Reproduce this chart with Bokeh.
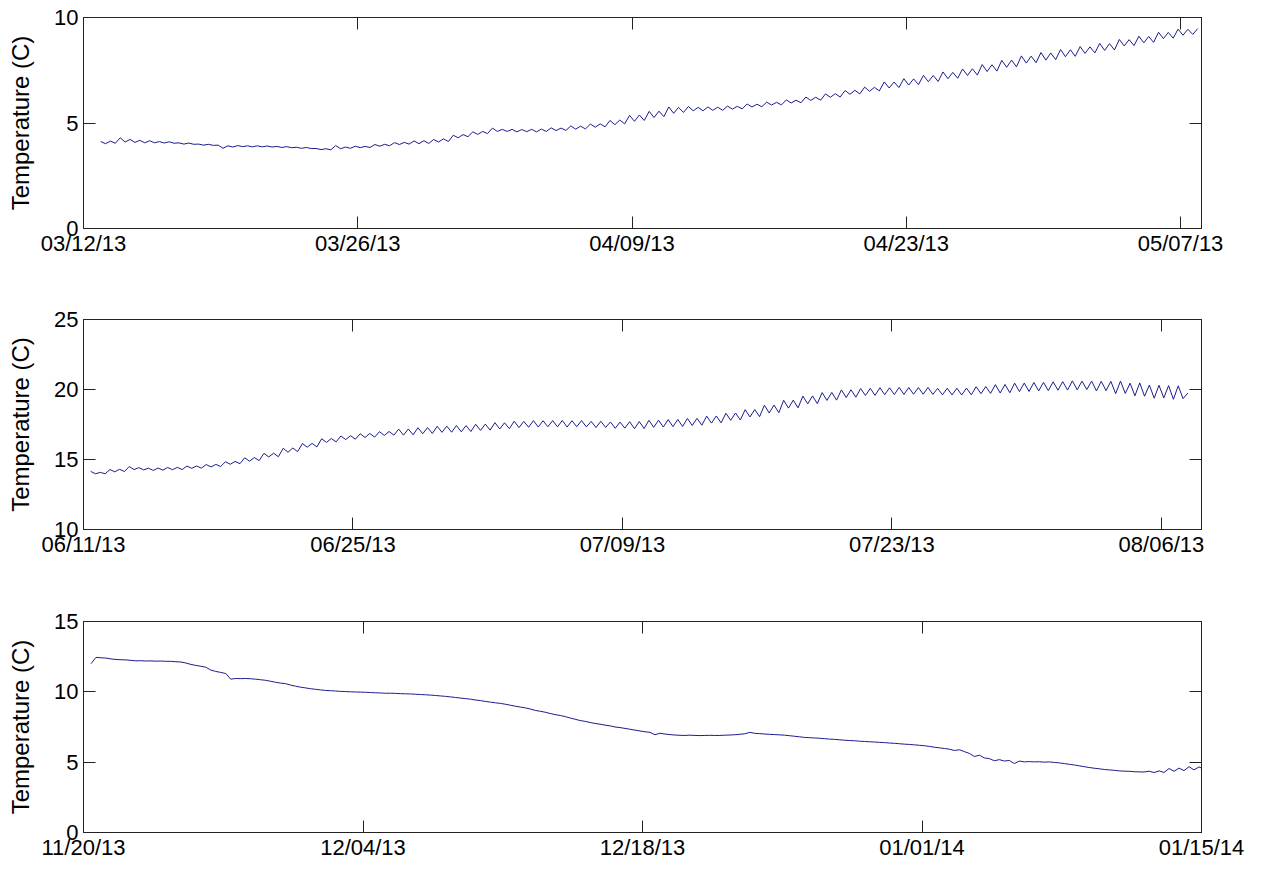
import pandas as pd
from bokeh.plotting import figure
from bokeh.layouts import column
from bokeh.models import (DatetimeAxis, LinearAxis, FixedTicker, Range1d,
                          CustomJSTickFormatter, CustomLabelingPolicy)
from bokeh.embed import file_html
from bokeh.resources import INLINE

# ---------------- data (6-hourly samples) ----------------
start1 = "2013-03-12 21:00"
temp1 = [
    4.12, 4.02, 4.14, 4.04, 4.30, 4.10, 4.22, 4.08, 4.18, 4.06, 4.16, 4.06,
    4.12, 4.05, 4.11, 4.04, 4.06, 4.00, 4.05, 3.99, 4.00, 3.95, 3.99, 3.94,
    3.95, 3.80, 3.92, 3.86, 3.93, 3.88, 3.92, 3.87, 3.92, 3.87, 3.91, 3.86,
    3.89, 3.84, 3.88, 3.83, 3.85, 3.80, 3.84, 3.79, 3.79, 3.74, 3.78, 3.73,
    3.93, 3.78, 3.86, 3.80, 3.90, 3.83, 3.89, 3.84, 3.98, 3.90, 3.99, 3.92,
    4.07, 3.98, 4.08, 4.00, 4.15, 4.02, 4.16, 4.03, 4.22, 4.10, 4.25, 4.12,
    4.42, 4.30, 4.45, 4.35, 4.58, 4.46, 4.60, 4.50, 4.76, 4.60, 4.70, 4.60,
    4.70, 4.58, 4.69, 4.59, 4.70, 4.58, 4.71, 4.60, 4.77, 4.64, 4.76, 4.65,
    4.86, 4.71, 4.85, 4.72, 4.95, 4.80, 4.96, 4.82, 5.12, 4.92, 5.14, 4.96,
    5.36, 5.08, 5.38, 5.12, 5.55, 5.26, 5.56, 5.30, 5.76, 5.46, 5.74, 5.50,
    5.78, 5.58, 5.74, 5.58, 5.76, 5.60, 5.75, 5.60, 5.80, 5.66, 5.79, 5.67,
    5.90, 5.76, 5.89, 5.77, 5.99, 5.85, 5.98, 5.86, 6.09, 5.95, 6.08, 5.96,
    6.23, 6.07, 6.22, 6.08, 6.38, 6.22, 6.39, 6.23, 6.54, 6.36, 6.55, 6.38,
    6.70, 6.50, 6.69, 6.52, 6.95, 6.66, 6.94, 6.68, 7.10, 6.80, 7.09, 6.82,
    7.26, 6.96, 7.25, 6.97, 7.42, 7.10, 7.40, 7.12, 7.56, 7.25, 7.57, 7.27,
    7.77, 7.44, 7.76, 7.46, 7.97, 7.64, 7.98, 7.66, 8.18, 7.84, 8.17, 7.86,
    8.34, 7.98, 8.32, 8.00, 8.48, 8.14, 8.47, 8.16, 8.62, 8.30, 8.61, 8.32,
    8.77, 8.44, 8.76, 8.46, 8.96, 8.65, 8.95, 8.67, 9.11, 8.80, 9.10, 8.82,
    9.30, 9.00, 9.29, 9.02, 9.45, 9.16, 9.44, 9.20, 9.47,
]
xticks1 = ["03/12/13", "03/26/13", "04/09/13", "04/23/13", "05/07/13"]
yticks1 = [0, 5, 10]
xlim1 = ("2013-03-12 00:00", "2013-05-08 01:40")
ylim1 = (0, 10)

start2 = "2013-06-11 09:00"
temp2 = [
    14.15, 13.98, 14.08, 13.98, 14.28, 14.12, 14.30, 14.14, 14.50, 14.28, 14.42, 14.26,
    14.38, 14.22, 14.39, 14.24, 14.43, 14.27, 14.44, 14.28, 14.53, 14.37, 14.54, 14.38,
    14.64, 14.47, 14.65, 14.50, 14.84, 14.66, 14.86, 14.70, 15.12, 14.88, 15.14, 14.92,
    15.44, 15.18, 15.45, 15.20, 15.80, 15.52, 15.82, 15.56, 16.14, 15.88, 16.15, 15.90,
    16.48, 16.22, 16.50, 16.26, 16.68, 16.42, 16.70, 16.45, 16.84, 16.57, 16.86, 16.60,
    16.99, 16.72, 17.00, 16.74, 17.17, 16.74, 17.18, 16.76, 17.27, 16.84, 17.28, 16.86,
    17.37, 16.94, 17.38, 16.95, 17.43, 16.98, 17.42, 17.00, 17.52, 17.08, 17.53, 17.10,
    17.63, 17.18, 17.62, 17.20, 17.73, 17.28, 17.72, 17.30, 17.78, 17.32, 17.77, 17.34,
    17.78, 17.33, 17.79, 17.32, 17.77, 17.34, 17.78, 17.33, 17.72, 17.28, 17.73, 17.29,
    17.68, 17.23, 17.67, 17.24, 17.70, 17.20, 17.71, 17.21, 17.80, 17.30, 17.81, 17.32,
    17.85, 17.35, 17.86, 17.36, 17.93, 17.43, 17.94, 17.45, 18.10, 17.60, 18.11, 17.62,
    18.30, 17.80, 18.32, 17.82, 18.56, 18.04, 18.57, 18.06, 18.88, 18.32, 18.89, 18.34,
    19.23, 18.67, 19.24, 18.69, 19.53, 18.97, 19.54, 18.99, 19.78, 19.22, 19.79, 19.24,
    19.97, 19.43, 19.98, 19.45, 20.07, 19.57, 20.08, 19.58, 20.13, 19.63, 20.12, 19.64,
    20.15, 19.65, 20.14, 19.66, 20.14, 19.66, 20.15, 19.65, 20.08, 19.62, 20.09, 19.61,
    20.09, 19.61, 20.10, 19.62, 20.20, 19.70, 20.21, 19.72, 20.35, 19.75, 20.36, 19.77,
    20.45, 19.85, 20.46, 19.86, 20.50, 19.90, 20.51, 19.92, 20.55, 19.95, 20.56, 19.96,
    20.62, 19.98, 20.60, 20.00, 20.60, 19.90, 20.58, 19.92, 20.58, 19.70, 20.60, 19.72,
    20.45, 19.55, 20.47, 19.52, 20.32, 19.38, 20.30, 19.40, 20.28, 19.30, 20.26, 19.35,
    19.75,
]
xticks2 = ["06/11/13", "06/25/13", "07/09/13", "07/23/13", "08/06/13"]
yticks2 = [10, 15, 20, 25]
xlim2 = ("2013-06-11 00:00", "2013-08-08 02:00")
ylim2 = (10, 25)

start3 = "2013-11-20 09:00"
temp3 = [
    12.00, 12.45, 12.42, 12.40, 12.34, 12.30, 12.28, 12.27, 12.24, 12.20, 12.21, 12.19,
    12.20, 12.18, 12.19, 12.17, 12.17, 12.14, 12.12, 12.05, 11.95, 11.88, 11.82, 11.75,
    11.55, 11.45, 11.38, 11.30, 10.90, 10.95, 10.94, 10.95, 10.93, 10.90, 10.86, 10.82,
    10.75, 10.68, 10.62, 10.58, 10.48, 10.40, 10.33, 10.28, 10.22, 10.18, 10.14, 10.10,
    10.08, 10.06, 10.03, 10.02, 10.00, 9.99, 9.98, 9.97, 9.95, 9.93, 9.92, 9.90,
    9.90, 9.89, 9.87, 9.86, 9.85, 9.83, 9.81, 9.79, 9.77, 9.74, 9.71, 9.68,
    9.64, 9.60, 9.56, 9.52, 9.48, 9.42, 9.38, 9.32, 9.27, 9.22, 9.18, 9.12,
    9.05, 8.98, 8.92, 8.86, 8.78, 8.68, 8.62, 8.55, 8.46, 8.38, 8.32, 8.24,
    8.14, 8.05, 7.96, 7.90, 7.82, 7.75, 7.70, 7.63, 7.58, 7.50, 7.46, 7.40,
    7.34, 7.28, 7.22, 7.16, 7.12, 6.95, 7.06, 7.00, 6.96, 6.93, 6.91, 6.90,
    6.92, 6.90, 6.89, 6.90, 6.91, 6.90, 6.90, 6.92, 6.93, 6.95, 6.98, 7.02,
    7.12, 7.05, 7.03, 7.00, 6.98, 6.96, 6.94, 6.92, 6.88, 6.84, 6.80, 6.76,
    6.74, 6.72, 6.70, 6.67, 6.64, 6.62, 6.59, 6.56, 6.54, 6.52, 6.49, 6.47,
    6.45, 6.43, 6.41, 6.39, 6.36, 6.34, 6.31, 6.28, 6.26, 6.23, 6.20, 6.17,
    6.12, 6.06, 6.02, 5.97, 5.92, 5.83, 5.88, 5.75, 5.62, 5.40, 5.50, 5.30,
    5.25, 5.10, 5.18, 5.08, 5.12, 4.90, 5.08, 5.02, 5.04, 5.02, 5.03, 5.00,
    5.02, 4.98, 4.95, 4.90, 4.85, 4.80, 4.74, 4.68, 4.62, 4.57, 4.53, 4.48,
    4.45, 4.42, 4.38, 4.36, 4.35, 4.32, 4.31, 4.30, 4.36, 4.26, 4.38, 4.27,
    4.55, 4.35, 4.58, 4.40, 4.68, 4.45, 4.66, 4.50,
]
xticks3 = ["11/20/13", "12/04/13", "12/18/13", "01/01/14", "01/15/14"]
yticks3 = [0, 5, 10, 15]
xlim3 = ("2013-11-20 00:00", "2014-01-15 00:00")
ylim3 = (0, 15)

y_label = "Temperature (C)"

# ---------------- styling ----------------
FONT = "Liberation Sans"
LINE_COLOR = "#1c1c8e"
AXIS_COLOR = "#222222"

NO_LABELS = """
const all = Array.from(indices);
for (const i of all) { indices.unset(i) }
return indices
"""


def style_axis(ax, show_labels=True):
    ax.axis_line_color = AXIS_COLOR
    ax.axis_line_width = 1
    ax.major_tick_line_color = AXIS_COLOR
    ax.major_tick_in = 12
    ax.major_tick_out = 0
    ax.minor_tick_line_color = None
    if show_labels:
        ax.major_label_text_font = FONT
        ax.major_label_text_font_size = "22px"
        ax.major_label_text_color = "black"
    else:
        ax.major_label_policy = CustomLabelingPolicy(code=NO_LABELS)
        ax.major_label_text_font_size = "2px"
        ax.major_label_standoff = 0


def make_panel(start, temps, xticks, yticks, xlim, ylim, height, top, bottom):
    x = pd.date_range(start, periods=len(temps), freq="6h")
    tick_ms = [pd.to_datetime(t, format="%m/%d/%y").value / 1e6 for t in xticks]
    p = figure(width=1264, height=height, x_axis_type="datetime",
               x_range=Range1d(pd.Timestamp(xlim[0]), pd.Timestamp(xlim[1])),
               y_range=Range1d(*ylim),
               output_backend="svg", toolbar_location=None,
               min_border_left=83, min_border_right=63,
               min_border_top=top, min_border_bottom=bottom)
    p.background_fill_color = "white"
    p.border_fill_color = "white"
    p.outline_line_color = AXIS_COLOR
    p.xgrid.visible = False
    p.ygrid.visible = False

    fmt = CustomJSTickFormatter(args=dict(tvals=tick_ms, tlabels=xticks), code="""
        let best = 0, d = Infinity;
        for (let i = 0; i < tvals.length; i++) {
            const dd = Math.abs(tvals[i] - tick);
            if (dd < d) { d = dd; best = i; }
        }
        return tlabels[best];
    """)
    xa = p.xaxis[0]
    xa.ticker = FixedTicker(ticks=tick_ms)
    xa.formatter = fmt
    style_axis(xa)
    xa.major_label_standoff = 2

    ya = p.yaxis[0]
    ya.ticker = FixedTicker(ticks=yticks)
    style_axis(ya)
    ya.major_label_standoff = 5
    ya.axis_label = y_label
    ya.axis_label_text_font = FONT
    ya.axis_label_text_font_size = "24px"
    ya.axis_label_text_font_style = "normal"
    ya.axis_label_text_color = "black"
    ya.axis_label_standoff = 17

    top_ax = DatetimeAxis(ticker=FixedTicker(ticks=tick_ms))
    style_axis(top_ax, show_labels=False)
    p.add_layout(top_ax, "above")
    right_ax = LinearAxis(ticker=FixedTicker(ticks=yticks))
    style_axis(right_ax, show_labels=False)
    p.add_layout(right_ax, "right")

    p.line(x, temps, line_color=LINE_COLOR, line_width=1)
    return p


p1 = make_panel(start1, temp1, xticks1, yticks1, xlim1, ylim1, 300, 17, 72)
p2 = make_panel(start2, temp2, xticks2, yticks2, xlim2, ylim2, 300, 19, 71)
p3 = make_panel(start3, temp3, xticks3, yticks3, xlim3, ylim3, 271, 21, 39)

layout = column(p1, p2, p3, spacing=0)
open("out.html", "w").write(file_html(layout, INLINE))
